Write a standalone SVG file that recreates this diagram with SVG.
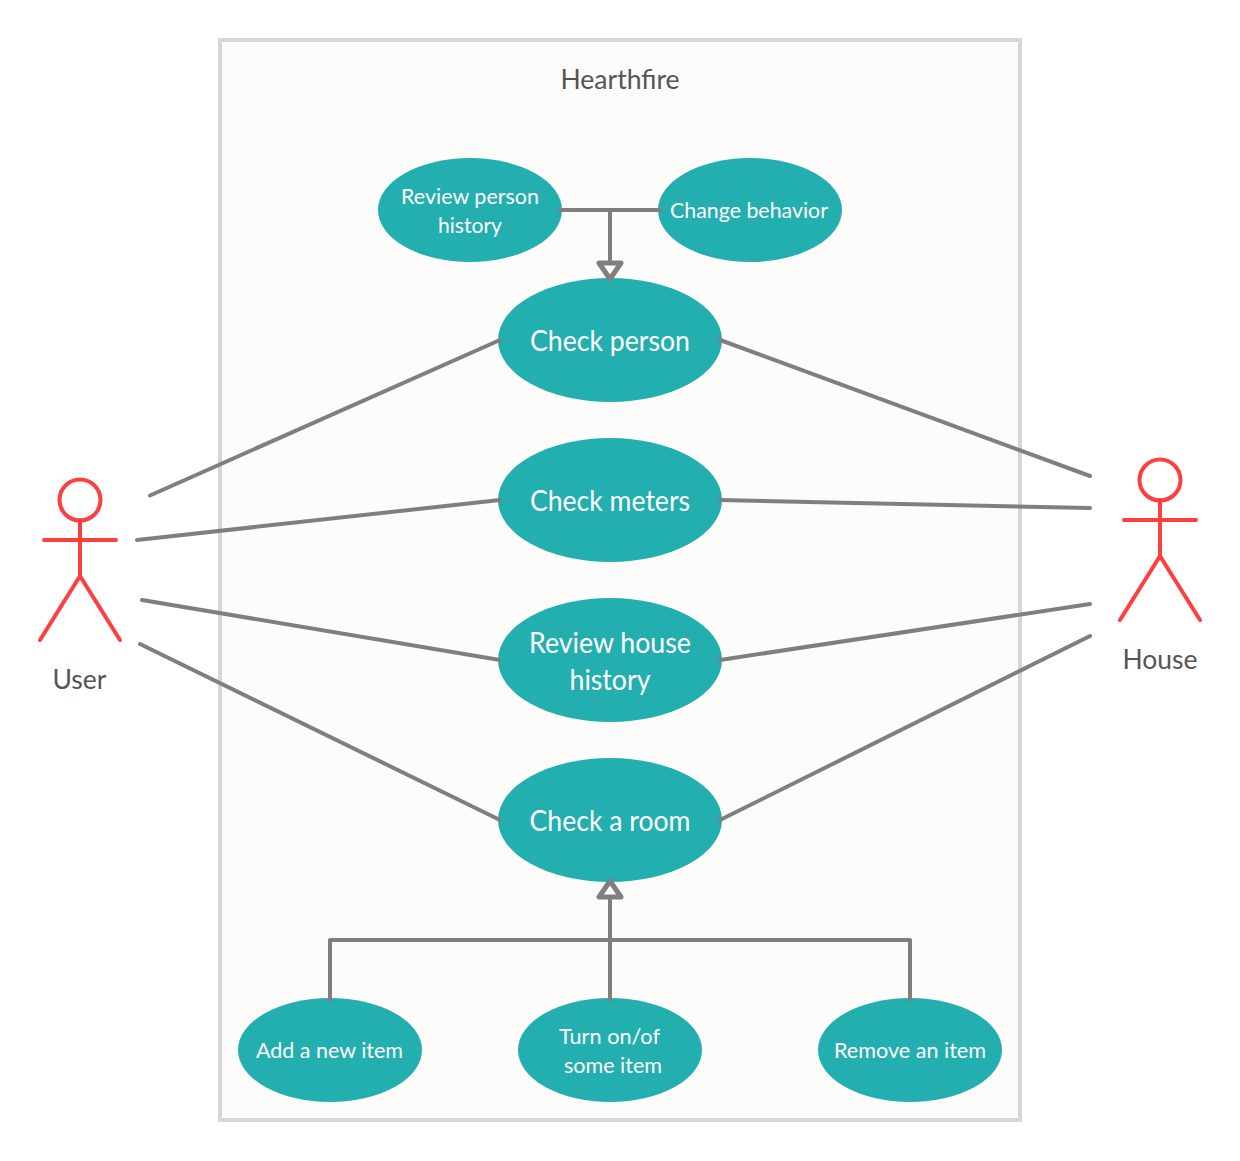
<svg xmlns="http://www.w3.org/2000/svg" width="1240" height="1161" viewBox="0 0 1240 1161">
<style>
text{font-family:Lato,"Liberation Sans",sans-serif;text-anchor:middle}
.uc{fill:#23afaf}
.w{fill:#fff}
.d{fill:#555}
.c{fill:none;stroke:#7f7f7f;stroke-width:4;stroke-linecap:round;stroke-linejoin:round}
.a{fill:#fff;stroke:#7f7f7f;stroke-width:5;stroke-linejoin:round}
.r{fill:none;stroke:#ff3f3f;stroke-width:4;stroke-linecap:round;stroke-linejoin:round}
</style>
<rect width="1240" height="1161" fill="#fff"/>
<g id="boundary"><rect x="220" y="40" width="800" height="1080" fill="#fdfcfb" stroke="#d6d6d6" stroke-width="4"/><text class="d" x="620" y="89" font-size="26" textLength="119" lengthAdjust="spacingAndGlyphs">Hearthfire</text></g>
<g id="review-person"><ellipse class="uc" cx="470" cy="210" rx="92" ry="52"/><text class="w" x="470" y="204" font-size="22" textLength="138" lengthAdjust="spacingAndGlyphs">Review person</text><text class="w" x="470" y="233" font-size="22" textLength="64" lengthAdjust="spacingAndGlyphs">history</text></g>
<g id="change-behavior"><ellipse class="uc" cx="750" cy="210" rx="92" ry="52"/><text class="w" x="749" y="218" font-size="22" textLength="158" lengthAdjust="spacingAndGlyphs">Change behavior</text></g>
<g id="check-person"><ellipse class="uc" cx="610" cy="340" rx="112" ry="62"/><text class="w" x="610" y="351" font-size="28" textLength="160" lengthAdjust="spacingAndGlyphs">Check person</text></g>
<g id="check-meters"><ellipse class="uc" cx="610" cy="500" rx="112" ry="62"/><text class="w" x="610" y="511" font-size="28" textLength="160" lengthAdjust="spacingAndGlyphs">Check meters</text></g>
<g id="review-house"><ellipse class="uc" cx="610" cy="660" rx="112" ry="62"/><text class="w" x="610" y="653" font-size="28" textLength="162" lengthAdjust="spacingAndGlyphs">Review house</text><text class="w" x="610" y="690" font-size="28" textLength="81" lengthAdjust="spacingAndGlyphs">history</text></g>
<g id="check-room"><ellipse class="uc" cx="610" cy="820" rx="112" ry="62"/><text class="w" x="610" y="831" font-size="28" textLength="161" lengthAdjust="spacingAndGlyphs">Check a room</text></g>
<g id="add-item"><ellipse class="uc" cx="330" cy="1050" rx="92" ry="52"/><text class="w" x="329.500" y="1058" font-size="22" textLength="147" lengthAdjust="spacingAndGlyphs">Add a new item</text></g>
<g id="turn-item"><ellipse class="uc" cx="610" cy="1050" rx="92" ry="52"/><text class="w" x="609.500" y="1044" font-size="22" textLength="101" lengthAdjust="spacingAndGlyphs">Turn on/of</text><text class="w" x="613" y="1073" font-size="22" textLength="98" lengthAdjust="spacingAndGlyphs">some item</text></g>
<g id="remove-item"><ellipse class="uc" cx="910" cy="1050" rx="92" ry="52"/><text class="w" x="910" y="1058" font-size="22" textLength="152" lengthAdjust="spacingAndGlyphs">Remove an item</text></g>
<g id="user"><circle class="r" cx="80" cy="500" r="20.500"/><path class="r" d="M80 520V576M44 540H116M80 576L40 640M80 576L120 640"/><text class="d" x="79.500" y="689" font-size="26" textLength="54" lengthAdjust="spacingAndGlyphs">User</text></g>
<g id="house"><circle class="r" cx="1160" cy="480" r="20.500"/><path class="r" d="M1160 500V556M1124 520H1196M1160 556L1120 620M1160 556L1200 620"/><text class="d" x="1160" y="669" font-size="26" textLength="75" lengthAdjust="spacingAndGlyphs">House</text></g>
<g id="connectors">
<path class="c" d="M150 495.500L500 340M137 540L500 500M142 600L500 660M140 644L500 820"/>
<path class="c" d="M720 340L1090 476M720 500L1090 508M720 660L1090 604M720 820L1090 636"/>
<path class="c" d="M560 210H660M610 210V262"/>
<path class="a" d="M599 263H621L610 279Z"/>
<path class="c" d="M330 1000V940H910V1000M610 1000V898"/>
<path class="a" d="M599 897H621L610 881Z"/>
</g>
</svg>
